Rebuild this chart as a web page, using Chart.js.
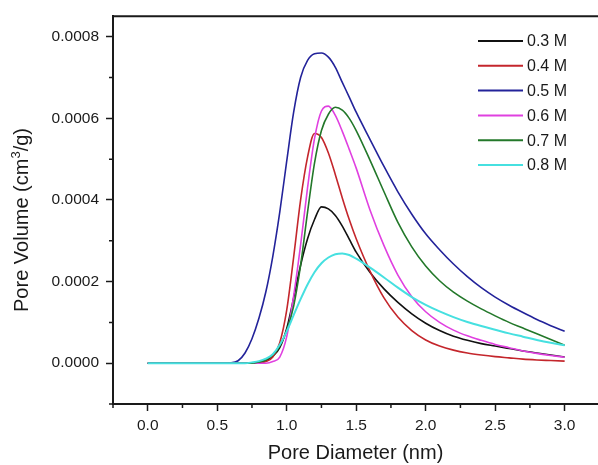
<!DOCTYPE html>
<html>
<head>
<meta charset="utf-8">
<script src="https://cdn.jsdelivr.net/npm/chart.js"></script>
<style>
  html, body { margin: 0; padding: 0; background: #fff; overflow: hidden; }
</style>
</head>
<body>
<canvas id="poreChart" width="598" height="465"></canvas>
<script>
// pore diameter grid (nm)
const diameters = [0, 0.5, 0.6, 0.65, 0.7, 0.75, 0.8, 0.85, 0.9, 0.95,
    1.0, 1.05, 1.1, 1.15, 1.2, 1.25, 1.3, 1.35, 1.4, 1.45, 1.5,
    1.6, 1.7, 1.8, 1.9, 2.0, 2.1, 2.2, 2.3, 2.4, 2.5, 2.6, 2.7, 2.8, 2.9, 3.0];

// pore volume (cm3/g) per concentration
const vol03 = [0, 0, 0, 0, 0, 0, 2e-6, 6e-6, 17e-6, 38e-6,
    85e-6, 160e-6, 240e-6, 305e-6, 352e-6, 383e-6, 378e-6, 362e-6, 336e-6, 304e-6, 272e-6,
    222e-6, 182e-6, 149e-6, 121e-6, 98e-6, 80e-6, 66e-6, 56e-6, 48e-6, 42e-6, 36e-6, 30e-6, 25e-6, 20e-6, 15e-6];
const vol04 = [0, 0, 0, 0, 0, 0, 0, 4e-6, 15e-6, 50e-6,
    130e-6, 260e-6, 400e-6, 505e-6, 563e-6, 553e-6, 515e-6, 462e-6, 405e-6, 352e-6, 305e-6,
    225e-6, 160e-6, 113e-6, 80e-6, 57e-6, 42e-6, 32e-6, 25e-6, 20e-6, 16e-6, 13e-6, 10e-6, 8e-6, 6.5e-6, 5e-6];
const vol05 = [0, 0, 1e-6, 6e-6, 25e-6, 60e-6, 110e-6, 175e-6, 262e-6, 370e-6,
    495e-6, 615e-6, 700e-6, 742e-6, 758e-6, 760e-6, 750e-6, 725e-6, 688e-6, 652e-6, 615e-6,
    548e-6, 482e-6, 420e-6, 365e-6, 317e-6, 278e-6, 243e-6, 212e-6, 185e-6, 162e-6, 142e-6, 124e-6, 107e-6, 92e-6, 78e-6];
const vol06 = [0, 0, 0, 0, 0, 0, 0, 0, 4e-6, 15e-6,
    65e-6, 165e-6, 290e-6, 430e-6, 550e-6, 618e-6, 630e-6, 607e-6, 568e-6, 524e-6, 478e-6,
    375e-6, 288e-6, 216e-6, 163e-6, 126e-6, 100e-6, 81e-6, 67e-6, 56e-6, 46e-6, 38e-6, 30e-6, 24e-6, 19e-6, 14.5e-6];
const vol07 = [0, 0, 0, 0, 0, 0, 3e-6, 8e-6, 20e-6, 42e-6,
    80e-6, 140e-6, 240e-6, 370e-6, 490e-6, 570e-6, 610e-6, 627e-6, 620e-6, 600e-6, 570e-6,
    497e-6, 420e-6, 345e-6, 285e-6, 238e-6, 202e-6, 174e-6, 152e-6, 133e-6, 116e-6, 100e-6, 86e-6, 72e-6, 58e-6, 44e-6];
const vol08 = [0, 0, 0, 0, 0, 2e-6, 5e-6, 11e-6, 22e-6, 45e-6,
    78e-6, 118e-6, 157e-6, 193e-6, 223e-6, 245e-6, 259e-6, 267e-6, 269e-6, 265e-6, 256e-6,
    234e-6, 210e-6, 185e-6, 162e-6, 143e-6, 127e-6, 113e-6, 101e-6, 91e-6, 82e-6, 73e-6, 65e-6, 57e-6, 50e-6, 44e-6];

const seriesNames = ['0.3 M', '0.4 M', '0.5 M', '0.6 M', '0.7 M', '0.8 M'];
const seriesValues = [vol03, vol04, vol05, vol06, vol07, vol08];
const seriesColors = ['#111111', '#c4262c', '#23239a', '#e040e0', '#23782a', '#46e0e0'];

const xTicks = [0, 0.5, 1.0, 1.5, 2.0, 2.5, 3.0];
const xMinorTicks = [-0.25, 0.25, 0.75, 1.25, 1.75, 2.25, 2.75];
const yTicks = [0, 0.0002, 0.0004, 0.0006, 0.0008];
const yMinorTicks = [-0.0001, 0.0001, 0.0003, 0.0005, 0.0007];

const fontFamily = '"Liberation Sans", Arial, sans-serif';
const inkColor = '#1a1a1a';

// minor ticks, top frame line, y title and the legend box
const extrasPlugin = {
    id: 'extras',
    afterDraw(chart) {
        const ctx = chart.ctx;
        const area = chart.chartArea;
        const xs = chart.scales.x;
        const ys = chart.scales.y;
        ctx.save();
        ctx.strokeStyle = inkColor;
        ctx.lineWidth = 1.5;
        ctx.beginPath();
        xMinorTicks.forEach(v => {
            const px = xs.getPixelForValue(v);
            ctx.moveTo(px, area.bottom);
            ctx.lineTo(px, area.bottom + 4);
        });
        yMinorTicks.forEach(v => {
            const py = ys.getPixelForValue(v);
            ctx.moveTo(area.left, py);
            ctx.lineTo(area.left - 4, py);
        });
        ctx.stroke();

        // top frame
        ctx.lineWidth = 2;
        ctx.beginPath();
        ctx.moveTo(area.left - 1, area.top);
        ctx.lineTo(area.right, area.top);
        ctx.stroke();

        // y axis title with superscript
        ctx.fillStyle = inkColor;
        ctx.translate(22, 220);
        ctx.rotate(-Math.PI / 2);
        ctx.textBaseline = 'middle';
        ctx.textAlign = 'left';
        const partA = 'Pore Volume (cm';
        const partB = '/g)';
        ctx.font = '13px ' + fontFamily;
        const supW = ctx.measureText('3').width;
        ctx.font = '20px ' + fontFamily;
        const wA = ctx.measureText(partA).width;
        const wB = ctx.measureText(partB).width;
        const startX = -(wA + supW + wB) / 2;
        ctx.fillText(partA, startX, 0);
        ctx.font = '13px ' + fontFamily;
        ctx.fillText('3', startX + wA, -6);
        ctx.font = '20px ' + fontFamily;
        ctx.fillText(partB, startX + wA + supW, 0);
        ctx.restore();

        // legend
        ctx.save();
        ctx.font = '16px ' + fontFamily;
        ctx.textBaseline = 'middle';
        ctx.textAlign = 'left';
        seriesNames.forEach((name, i) => {
            const y = 41 + i * 24.8;
            ctx.strokeStyle = seriesColors[i];
            ctx.lineWidth = 2;
            ctx.beginPath();
            ctx.moveTo(478, y);
            ctx.lineTo(523, y);
            ctx.stroke();
            ctx.fillStyle = inkColor;
            ctx.fillText(name, 527, y + 1);
        });
        ctx.restore();
    }
};

const ctx = document.getElementById('poreChart').getContext('2d');

new Chart(ctx, {
    type: 'line',
    data: {
        datasets: seriesValues.map((vals, i) => ({
            label: seriesNames[i],
            data: diameters.map((d, j) => ({ x: d, y: vals[j] })),
            borderColor: seriesColors[i],
            borderWidth: i === 5 ? 2 : 1.6,
            pointRadius: 0,
            fill: false,
            cubicInterpolationMode: 'monotone',
            order: 5 - i
        }))
    },
    options: {
        responsive: false,
        animation: false,
        layout: { padding: { top: 12, right: 0, left: 0, bottom: 0 } },
        plugins: {
            legend: { display: false },
            tooltip: { enabled: false }
        },
        scales: {
            x: {
                type: 'linear',
                min: -0.25,
                max: 3.24,
                afterBuildTicks: s => { s.ticks = xTicks.map(v => ({ value: v })); },
                afterFit: s => { s.height = 61; },
                grid: { drawOnChartArea: false, tickLength: 7, tickWidth: 1.5, tickColor: inkColor },
                border: { color: inkColor, width: 2 },
                ticks: {
                    color: inkColor,
                    padding: 5,
                    maxRotation: 0,
                    font: { family: fontFamily, size: 15.5 },
                    callback: v => v.toFixed(1)
                },
                title: {
                    display: true,
                    text: 'Pore Diameter (nm)',
                    color: inkColor,
                    padding: { top: 0, bottom: 0 },
                    font: { family: fontFamily, size: 20 }
                }
            },
            y: {
                type: 'linear',
                min: -0.0001,
                max: 0.00085,
                afterBuildTicks: s => { s.ticks = yTicks.map(v => ({ value: v })); },
                afterFit: s => { s.width = 113; },
                grid: { drawOnChartArea: false, tickLength: 7, tickWidth: 1.5, tickColor: inkColor },
                border: { color: inkColor, width: 2 },
                ticks: {
                    color: inkColor,
                    padding: 7,
                    font: { family: fontFamily, size: 15.5 },
                    callback: v => v.toFixed(4)
                }
            }
        }
    },
    plugins: [extrasPlugin]
});
</script>
</body>
</html>
